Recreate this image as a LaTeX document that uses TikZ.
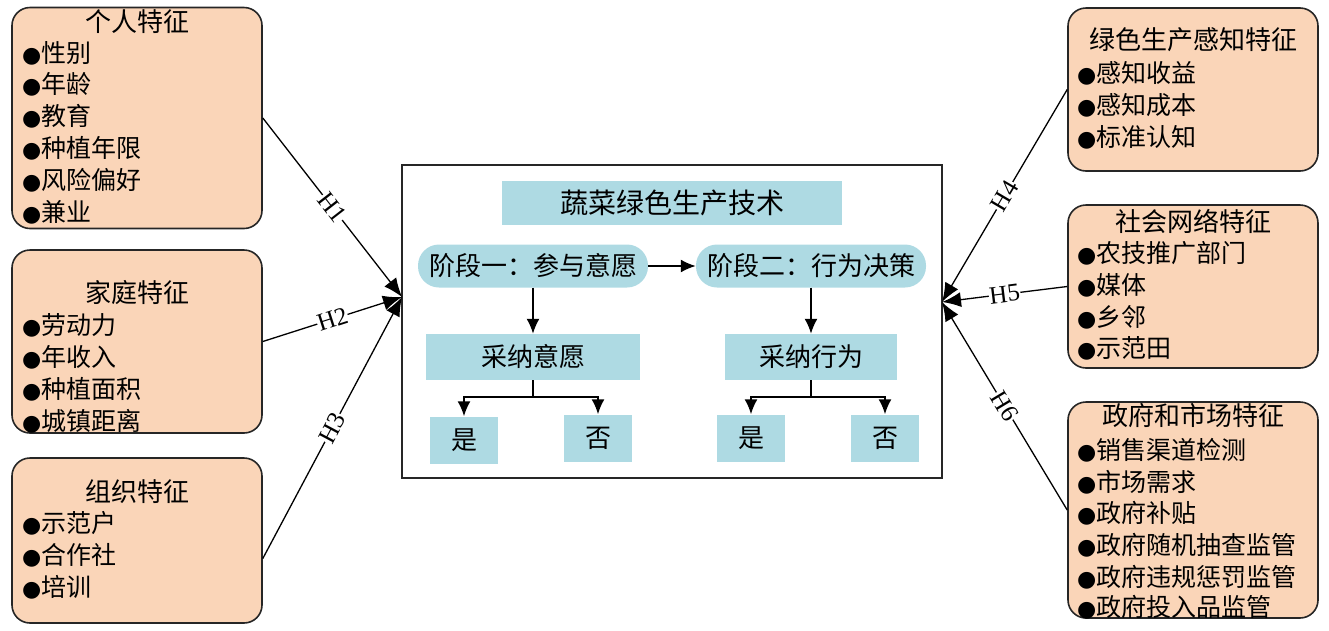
\documentclass[tikz,border=0pt]{standalone}
\usepackage{fontspec}
\setmainfont{Liberation Serif}
\newfontfamily\cjk{Noto Sans CJK SC}
\newfontfamily\dotfont{DejaVu Sans}
\usetikzlibrary{positioning}
\usetikzlibrary{arrows.meta,shapes}
\usetikzlibrary{calc}
\definecolor{peach}{RGB}{250,213,184}
\definecolor{paleblue}{RGB}{174,218,227}
\tikzstyle{featbox}=[rectangle,rounded corners=18pt,draw=black!85,line width=1.6pt,fill=peach,minimum width=250pt,inner sep=0pt]
\tikzstyle{feattitle}=[font=\cjk\fontsize{26}{26}\selectfont,inner sep=0pt]
\tikzstyle{featitem}=[font=\cjk\fontsize{25}{25}\selectfont,anchor=west,inner sep=0pt]
\tikzstyle{bluebox}=[rectangle,fill=paleblue,inner sep=0pt,font=\cjk\fontsize{26}{26}\selectfont]
\tikzstyle{stage}=[bluebox,rounded corners=21pt,minimum width=230pt,minimum height=43pt]
\tikzstyle{flow}=[draw,line width=1.8pt,-{Latex[length=15pt,width=13pt]}]
\tikzstyle{hyp}=[draw,line width=1.3pt,-{Latex[length=19pt,width=15pt]}]
\tikzstyle{hlabel}=[sloped,fill=white,inner sep=0.5pt,font=\fontsize{25}{25}\selectfont]
\newcommand{\bul}{{\dotfont\fontsize{22}{22}\selectfont ●}}

\begin{document}
\begin{tikzpicture}[x=1pt,y=-1pt]
\useasboundingbox (0,0) rectangle (1329,630);

    % central frame with the two stages
    \node[draw=black!85,line width=1.5pt,minimum width=540pt,minimum height=313pt,inner sep=0pt] (frame) at (672,321.5) {};
    \node[bluebox,minimum width=340pt,minimum height=44pt,font=\cjk\fontsize{28}{28}\selectfont] (tech) at (672,203) {蔬菜绿色生产技术};
    \node[stage] (st1) at (533,266) {阶段一：参与意愿};
    \node[stage] (st2) at (811,266) {阶段二：行为决策};
    \node[bluebox,minimum width=214pt,minimum height=46pt] (will) at (533,357) {采纳意愿};
    \node[bluebox,minimum width=172pt,minimum height=46pt] (act) at (811,357) {采纳行为};

    \foreach \pos/\name/\label in {{(464,440)/yes1/是}, {(598,438)/no1/否}, {(751,438)/yes2/是}, {(885,438)/no2/否}}
        \node[bluebox,minimum width=68pt,minimum height=47pt] (\name) at \pos {\label};

    \path[flow] (st1) -- (st2);
    \path[flow] (st1) -- (will);
    \path[flow] (st2) -- (act);
  \foreach \source/ \dest in {will/yes1, will/no1, act/yes2, act/no2}
          \path[flow] (\source.south) -- ++(0,17) -| (\dest.north);

    % feature boxes
    \foreach \pos/\name/\h in {{(137,118)/pers/221}, {(137,341.5)/fam/183}, {(137,540.5)/org/165}, {(1193,89.5)/perc/163}, {(1193,286.5)/soc/163}, {(1193,510)/gov/216}}
        \node[featbox,minimum height=\h pt] (\name) at \pos {};

    \foreach \pos/\name/\label in {{(137,22)/tpers/个人特征}, {(137,293)/tfam/家庭特征}, {(137,492)/torg/组织特征}, {(1193,40)/tperc/绿色生产感知特征}, {(1193,221)/tsoc/社会网络特征}, {(1193,416)/tgov/政府和市场特征}}
        \node[feattitle] (\name) at \pos {\label};

    \foreach \pos/\name/\label in {{(22,53)/p1/性别}, {(22,84)/p2/年龄}, {(22,116)/p3/教育}, {(22,148)/p4/种植年限}, {(22,180)/p5/风险偏好}, {(22,212)/p6/兼业},
        {(22,325)/f1/劳动力}, {(22,357)/f2/年收入}, {(22,389)/f3/种植面积}, {(22,421)/f4/城镇距离},
        {(22,523)/o1/示范户}, {(22,555)/o2/合作社}, {(22,587)/o3/培训},
        {(1077,73)/c1/感知收益}, {(1077,105)/c2/感知成本}, {(1077,137)/c3/标准认知},
        {(1077,253)/s1/农技推广部门}, {(1077,285)/s2/媒体}, {(1077,317)/s3/乡邻}, {(1077,348)/s4/示范田},
        {(1077,450)/g1/销售渠道检测}, {(1077,482)/g2/市场需求}, {(1077,513)/g3/政府补贴}, {(1077,545)/g4/政府随机抽查监管}, {(1077,577)/g5/政府违规惩罚监管}, {(1077,607)/g6/政府投入品监管}}
        \node[featitem] (\name) at \pos {\bul\label};

    % hypotheses
    \coordinate (inL) at (402,297);
    \coordinate (inR) at (942,302);
    \path[hyp] (pers.east) -- node[hlabel] {H1} (inL);
    \path[hyp] (fam.east) -- node[hlabel] {H2} (inL);
    \path[hyp] ([yshift=-18pt]org.east) -- node[hlabel] {H3} (inL);
    \path[hyp] (perc.west) -- node[hlabel] {H4} (inR);
    \path[hyp] (soc.west) -- node[hlabel] {H5} (inR);
    \path[hyp] (gov.west) -- node[hlabel] {H6} (inR);

\end{tikzpicture}
\end{document}
